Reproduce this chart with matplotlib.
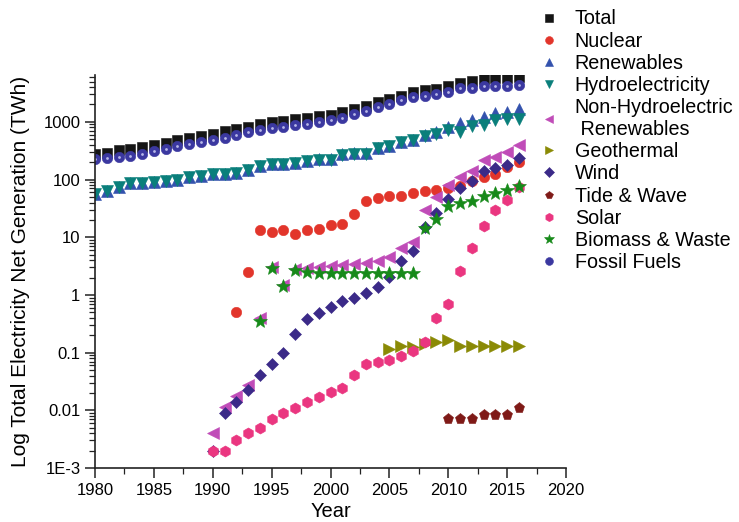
import numpy as np
import matplotlib
matplotlib.use('Agg')
import matplotlib.pyplot as plt
from matplotlib.ticker import FixedLocator, FuncFormatter, MultipleLocator, LogLocator, NullFormatter

plt.rcParams['font.family'] = ['Liberation Sans', 'DejaVu Sans']

# data (TWh)
years_all = list(range(1980, 2017))
total = [282, 294, 323, 345, 369, 395, 433, 483, 531, 568, 615, 695, 763, 827, 922, 1000, 1054, 1115, 1189, 1274,
         1327, 1479, 1644, 1909, 2183, 2500, 2858, 3266, 3499, 3749, 4227, 4774, 5036, 5458, 5680, 5844, 5916]
fossil = [231, 236, 243, 253, 275, 310, 340, 384, 416, 451, 477, 531, 592, 660, 724, 785, 817, 885, 922, 988,
          1084, 1189, 1365, 1560, 1782, 2042, 2364, 2667, 2779, 3013, 3319, 3793, 3899, 4160, 4160, 4160, 4395]
hydro = [56.4, 64.4, 73.6, 86.4, 86.4, 89.9, 93.6, 100, 109.7, 117.4, 125.6, 125.6, 130.9, 147.6, 168.4, 182.5,
         182.5, 192.4, 208.5, 220.4, 220, 269, 280, 280, 350, 379, 445, 476, 560, 607, 712, 665, 860, 894, 1061,
         1105, 1137]
renewables = [56.4, 64.4, 73.6, 86.4, 86.4, 89.9, 93.6, 100, 109.7, 117.4, 125.6, 125.6, 130.9, 147.6, 168.8, 185.6,
              184.0, 195.2, 211.4, 223.5, 223.2, 272.4, 283.5, 283.6, 353.9, 383.6, 451.4, 484.3, 590, 656, 828, 948,
              1084, 1208, 1417, 1510, 1663]

years_nuclear = list(range(1992, 2017))
nuclear = [0.5, 2.5, 13.6, 12.3, 13.6, 11.4, 13.6, 14.1, 16.1, 16.7, 24.9, 41.8, 48.3, 50.9, 51.5, 58, 64.6, 66.4,
           70.8, 78.8, 93, 109, 125, 163, 199]

years_1990 = list(range(1990, 2017))
nonhydro = [0.0041, 0.0116, 0.018, 0.028, 0.40, 3.07, 1.49, 2.8, 2.9, 3.07, 3.2, 3.35, 3.45, 3.6, 3.9, 4.6, 6.4,
            8.3, 30, 49, 79, 110, 143, 214, 244, 298, 390]
wind = [0.002, 0.0091, 0.0141, 0.0224, 0.0407, 0.0646, 0.099, 0.207, 0.38, 0.495, 0.63, 0.77, 0.89, 1.07, 1.36,
        2.02, 3.9, 5.8, 15.1, 26.7, 45.2, 72, 96, 143, 159, 182, 234]
solar = [0.002, 0.002, 0.003, 0.004, 0.005, 0.0071, 0.0091, 0.0111, 0.0141, 0.0172, 0.0207, 0.0246, 0.0407,
         0.0646, 0.069, 0.0736, 0.086, 0.105, 0.153, 0.40, 0.70, 2.6, 6.4, 15.5, 29.2, 44.7, 74]

years_biomass = list(range(1994, 2017))
biomass = [0.35, 2.96, 1.43, 2.7, 2.46, 2.43, 2.43, 2.43, 2.43, 2.43, 2.43, 2.43, 2.43, 2.43,
           14.7, 21, 34.2, 39, 41.8, 51, 58, 66, 76]

years_geo = list(range(2005, 2017))
geothermal = [0.116, 0.132, 0.125, 0.143, 0.153, 0.163, 0.129, 0.129, 0.129, 0.129, 0.129, 0.129]

years_tide = list(range(2010, 2017))
tide = [0.0072, 0.0072, 0.0072, 0.0082, 0.0082, 0.0082, 0.0111]

series = [
    ('Total', years_all, total, 's', '#151515', 7),
    ('Nuclear', years_nuclear, nuclear, 'o', '#e2352b', 7.5),
    ('Renewables', years_all, renewables, '^', '#3352ad', 8),
    ('Hydroelectricity', years_all, hydro, 'v', '#0a7f7b', 8),
    ('Non-Hydroelectric\n Renewables', years_1990, nonhydro, '<', '#c04cb8', 8),
    ('Geothermal', years_geo, geothermal, '>', '#8a8a05', 8),
    ('Wind', years_1990, wind, 'D', '#3b2a88', 6.5),
    ('Tide & Wave', years_tide, tide, 'p', '#7f1a17', 8),
    ('Solar', years_1990, solar, 'h', '#ea3680', 8),
    ('Biomass & Waste', years_biomass, biomass, '*', '#178a1a', 10),
    ('Fossil Fuels', years_all, fossil, 'o', '#3b38a0', 7.5),
]

fig = plt.figure(figsize=(7.39, 5.22), dpi=100)
ax = fig.add_axes([0.1286, 0.1034, 0.6373, 0.7530])

for name, xs, ys, mk, col, ms in series:
    ax.plot(xs, ys, linestyle='none', marker=mk, color=col, markersize=ms,
            markeredgewidth=0.4, markeredgecolor=col, label=name)
    if name == 'Fossil Fuels':
        # small highlight on the spheres
        ax.plot(xs, ys, linestyle='none', marker='o', color='#b8b8e8', markersize=2,
                markeredgewidth=0)

ax.set_yscale('log')
ax.set_xlim(1980, 2020)
ax.set_ylim(1e-3, 6500)

ax.xaxis.set_major_locator(MultipleLocator(5))
ax.xaxis.set_minor_locator(MultipleLocator(2.5))
ax.yaxis.set_major_locator(FixedLocator([1e-3, 1e-2, 1e-1, 1, 10, 100, 1000]))
ax.yaxis.set_minor_locator(LogLocator(base=10, subs=np.arange(2, 10)))
ax.yaxis.set_minor_formatter(NullFormatter())
ylabels = {1e-3: '1E-3', 1e-2: '0.01', 1e-1: '0.1', 1: '1', 10: '10', 100: '100', 1000: '1000'}
ax.yaxis.set_major_formatter(FuncFormatter(lambda v, p: ylabels.get(round(v, 6), '')))

for s in ['top', 'right']:
    ax.spines[s].set_visible(False)
for s in ['left', 'bottom']:
    ax.spines[s].set_linewidth(1.2)
    ax.spines[s].set_color('#222222')
ax.tick_params(which='major', direction='out', length=7, width=1.1, labelsize=12, color='#222222')
ax.tick_params(which='minor', direction='out', length=4, width=0.9, color='#222222')

ax.set_xlabel('Year', fontsize=14.5, labelpad=3)
ax.set_ylabel('Log Total Electricity Net Generation (TWh)', fontsize=15, labelpad=10)

ax.legend(loc='upper left', bbox_to_anchor=(0.719, 0.997), bbox_transform=fig.transFigure,
          frameon=False, fontsize=14.2, handlelength=1.0, handletextpad=0.8,
          labelspacing=0.16, borderaxespad=0, markerscale=0.75)

fig.savefig('out.png', dpi=100)
